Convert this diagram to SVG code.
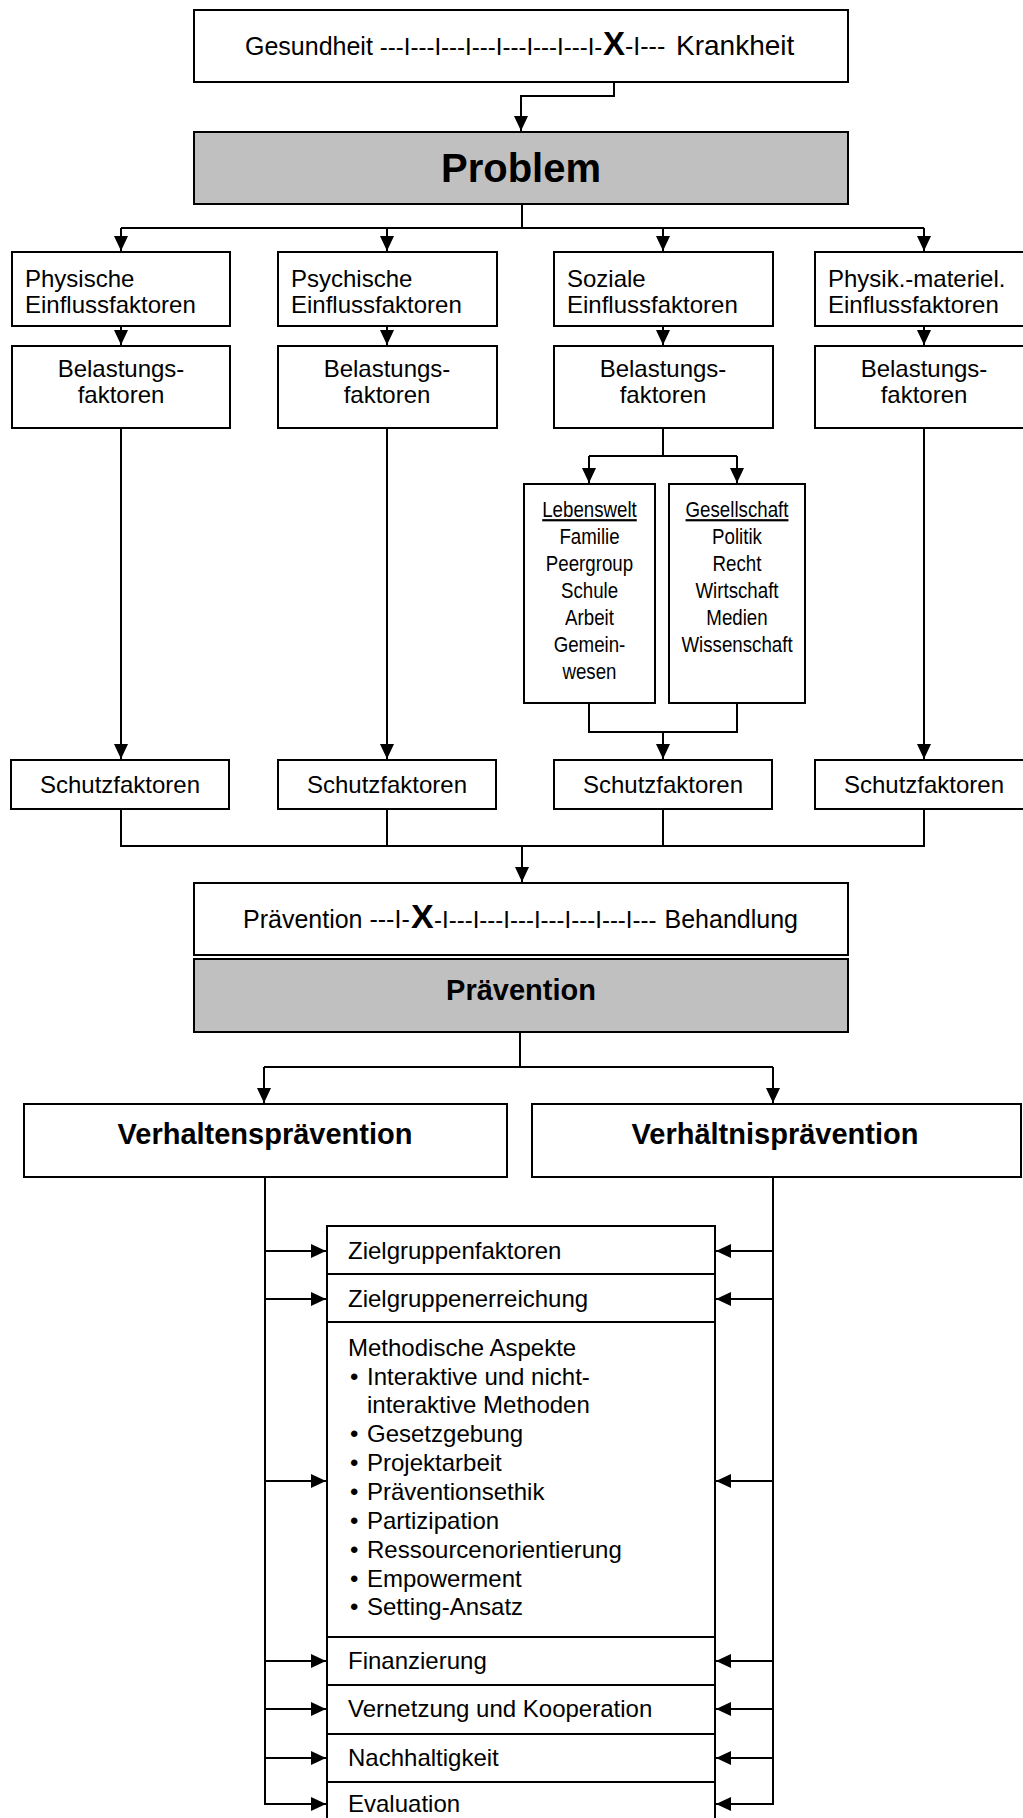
<svg xmlns="http://www.w3.org/2000/svg" width="1023" height="1818" viewBox="0 0 1023 1818">
<defs>
<marker id="ah" markerWidth="15" markerHeight="14" refX="15" refY="7" orient="auto" markerUnits="userSpaceOnUse"><path d="M0,0 L15,7 L0,14 z" fill="#000"/></marker>
<style>
.box{fill:#fff;stroke:#000;stroke-width:2}
.gray{fill:#c0c0c0;stroke:#000;stroke-width:2}
.t{font-family:"Liberation Sans",Arial,sans-serif;font-size:24px;fill:#000}
.c{text-anchor:middle}
.e{text-anchor:end}
.b{font-weight:bold}
.n{font-size:22px}
.s25{font-size:25px}
.ln{fill:none;stroke:#000;stroke-width:2}
.ar{marker-end:url(#ah)}
</style>
</defs>
<rect width="1023" height="1818" fill="#fff"/>

<g id="connectors">
<path class="ln ar" d="M614,62 V96 H521 V131"/>
<path class="ln" d="M522,204 V228 M121,228 H924"/>
<path class="ln ar" d="M121,228 V251"/>
<path class="ln ar" d="M387,228 V251"/>
<path class="ln ar" d="M663,228 V251"/>
<path class="ln ar" d="M924,228 V251"/>
<path class="ln ar" d="M121,326 V345"/>
<path class="ln ar" d="M387,326 V345"/>
<path class="ln ar" d="M663,326 V345"/>
<path class="ln ar" d="M924,326 V345"/>
<path class="ln ar" d="M121,428 V759"/>
<path class="ln ar" d="M387,428 V759"/>
<path class="ln ar" d="M924,428 V759"/>
<path class="ln" d="M663,428 V456 M589,456 H737"/>
<path class="ln ar" d="M589,456 V483"/>
<path class="ln ar" d="M737,456 V483"/>
<path class="ln" d="M589,703 V732 H737 V703"/>
<path class="ln ar" d="M663,732 V759"/>
<path class="ln" d="M121,809 V846 H924 V809 M387,809 V846 M663,809 V846"/>
<path class="ln ar" d="M522,846 V882"/>
<path class="ln" d="M520,1032 V1067 H773 M264,1067 H520"/>
<path class="ln ar" d="M264,1067 V1103"/>
<path class="ln ar" d="M773,1067 V1103"/>
<path class="ln" d="M265,1177 V1804 M773,1177 V1804"/>
<path class="ln ar" d="M265,1251 H326"/>
<path class="ln ar" d="M265,1299 H326"/>
<path class="ln ar" d="M265,1481 H326"/>
<path class="ln ar" d="M265,1661 H326"/>
<path class="ln ar" d="M265,1709 H326"/>
<path class="ln ar" d="M265,1758 H326"/>
<path class="ln ar" d="M264,1804 H326"/>
<path class="ln ar" d="M773,1251 H716"/>
<path class="ln ar" d="M773,1299 H716"/>
<path class="ln ar" d="M773,1481 H716"/>
<path class="ln ar" d="M773,1661 H716"/>
<path class="ln ar" d="M773,1709 H716"/>
<path class="ln ar" d="M773,1758 H716"/>
<path class="ln ar" d="M774,1804 H716"/>
</g>

<g id="scale-gesundheit">
<rect class="box" x="194" y="10" width="654" height="72"/>
<text class="t s25" x="245" y="55">Gesundheit <tspan style="font-size:24px">---I---I---I---I---I---I---I-</tspan></text>
<text class="t b" x="603" y="55" style="font-size:33px">X</text>
<text class="t s25" x="625" y="55">-I---</text>
<text class="t" x="676" y="55" style="font-size:28px">Krankheit</text>
</g>

<g id="problem">
<rect class="gray" x="194" y="132" width="654" height="72"/>
<text class="t c b" x="521" y="182" style="font-size:40px">Problem</text>
</g>

<g id="einfluss-physisch">
<rect class="box" x="12" y="252" width="218" height="74"/>
<text class="t" x="25" y="287">Physische</text>
<text class="t" x="25" y="313">Einflussfaktoren</text>
</g>
<g id="einfluss-psychisch">
<rect class="box" x="278" y="252" width="219" height="74"/>
<text class="t" x="291" y="287">Psychische</text>
<text class="t" x="291" y="313">Einflussfaktoren</text>
</g>
<g id="einfluss-sozial">
<rect class="box" x="554" y="252" width="219" height="74"/>
<text class="t" x="567" y="287">Soziale</text>
<text class="t" x="567" y="313">Einflussfaktoren</text>
</g>
<g id="einfluss-materiell">
<rect class="box" x="815" y="252" width="218" height="74"/>
<text class="t" x="828" y="287">Physik.-materiel.</text>
<text class="t" x="828" y="313">Einflussfaktoren</text>
</g>

<g id="belastung-1">
<rect class="box" x="12" y="346" width="218" height="82"/>
<text class="t c" x="121" y="377">Belastungs-</text>
<text class="t c" x="121" y="403">faktoren</text>
</g>
<g id="belastung-2">
<rect class="box" x="278" y="346" width="219" height="82"/>
<text class="t c" x="387" y="377">Belastungs-</text>
<text class="t c" x="387" y="403">faktoren</text>
</g>
<g id="belastung-3">
<rect class="box" x="554" y="346" width="219" height="82"/>
<text class="t c" x="663" y="377">Belastungs-</text>
<text class="t c" x="663" y="403">faktoren</text>
</g>
<g id="belastung-4">
<rect class="box" x="815" y="346" width="218" height="82"/>
<text class="t c" x="924" y="377">Belastungs-</text>
<text class="t c" x="924" y="403">faktoren</text>
</g>

<g id="lebenswelt">
<rect class="box" x="524" y="484" width="131" height="219"/>
<g transform="translate(589.5,0) scale(0.85,1)">
<text class="t n c" x="0" y="517" text-decoration="underline">Lebenswelt</text>
<text class="t n c" x="0" y="544">Familie</text>
<text class="t n c" x="0" y="571">Peergroup</text>
<text class="t n c" x="0" y="598">Schule</text>
<text class="t n c" x="0" y="625">Arbeit</text>
<text class="t n c" x="0" y="652">Gemein-</text>
<text class="t n c" x="0" y="679">wesen</text>
</g>
</g>
<g id="gesellschaft">
<rect class="box" x="669" y="484" width="136" height="219"/>
<g transform="translate(737,0) scale(0.85,1)">
<text class="t n c" x="0" y="517" text-decoration="underline">Gesellschaft</text>
<text class="t n c" x="0" y="544">Politik</text>
<text class="t n c" x="0" y="571">Recht</text>
<text class="t n c" x="0" y="598">Wirtschaft</text>
<text class="t n c" x="0" y="625">Medien</text>
<text class="t n c" x="0" y="652">Wissenschaft</text>
</g>
</g>

<g id="schutz-1">
<rect class="box" x="11" y="760" width="218" height="49"/>
<text class="t c" x="120" y="793">Schutzfaktoren</text>
</g>
<g id="schutz-2">
<rect class="box" x="278" y="760" width="218" height="49"/>
<text class="t c" x="387" y="793">Schutzfaktoren</text>
</g>
<g id="schutz-3">
<rect class="box" x="554" y="760" width="218" height="49"/>
<text class="t c" x="663" y="793">Schutzfaktoren</text>
</g>
<g id="schutz-4">
<rect class="box" x="815" y="760" width="218" height="49"/>
<text class="t c" x="924" y="793">Schutzfaktoren</text>
</g>

<g id="scale-praevention">
<rect class="box" x="194" y="883" width="654" height="72"/>
<text class="t s25" x="243" y="928">Prävention ---I-</text>
<text class="t b" x="411" y="928" style="font-size:34px">X</text>
<text class="t" x="434" y="928">-I---I---I---I---I---I---I---</text>
<text class="t e s25" x="798" y="928">Behandlung</text>
</g>

<g id="praevention">
<rect class="gray" x="194" y="959" width="654" height="73"/>
<text class="t c b" x="521" y="1000" style="font-size:29px">Prävention</text>
</g>

<g id="verhaltenspraevention">
<rect class="box" x="24" y="1104" width="483" height="73"/>
<text class="t c b" x="265" y="1144" style="font-size:29px">Verhaltensprävention</text>
</g>
<g id="verhaeltnispraevention">
<rect class="box" x="532" y="1104" width="489" height="73"/>
<text class="t c b" x="775" y="1144" style="font-size:29px">Verhältnisprävention</text>
</g>

<g id="zielgruppenfaktoren">
<rect class="box" x="327" y="1226" width="388" height="48"/>
<text class="t" x="348" y="1259">Zielgruppenfaktoren</text>
</g>
<g id="zielgruppenerreichung">
<rect class="box" x="327" y="1274" width="388" height="48"/>
<text class="t" x="348" y="1307">Zielgruppenerreichung</text>
</g>
<g id="methodische-aspekte">
<rect class="box" x="327" y="1322" width="388" height="315"/>
<text class="t" x="348" y="1356">Methodische Aspekte</text>
<text class="t" x="350" y="1385">•</text><text class="t" x="367" y="1385">Interaktive und nicht-</text>
<text class="t" x="367" y="1413">interaktive Methoden</text>
<text class="t" x="350" y="1442">•</text><text class="t" x="367" y="1442">Gesetzgebung</text>
<text class="t" x="350" y="1471">•</text><text class="t" x="367" y="1471">Projektarbeit</text>
<text class="t" x="350" y="1500">•</text><text class="t" x="367" y="1500">Präventionsethik</text>
<text class="t" x="350" y="1529">•</text><text class="t" x="367" y="1529">Partizipation</text>
<text class="t" x="350" y="1558">•</text><text class="t" x="367" y="1558">Ressourcenorientierung</text>
<text class="t" x="350" y="1587">•</text><text class="t" x="367" y="1587">Empowerment</text>
<text class="t" x="350" y="1615">•</text><text class="t" x="367" y="1615">Setting-Ansatz</text>
</g>
<g id="finanzierung">
<rect class="box" x="327" y="1637" width="388" height="48"/>
<text class="t" x="348" y="1669">Finanzierung</text>
</g>
<g id="vernetzung">
<rect class="box" x="327" y="1685" width="388" height="49"/>
<text class="t" x="348" y="1717">Vernetzung und Kooperation</text>
</g>
<g id="nachhaltigkeit">
<rect class="box" x="327" y="1734" width="388" height="48"/>
<text class="t" x="348" y="1766">Nachhaltigkeit</text>
</g>
<g id="evaluation">
<rect class="box" x="327" y="1782" width="388" height="60"/>
<text class="t" x="348" y="1812">Evaluation</text>
</g>
</svg>
